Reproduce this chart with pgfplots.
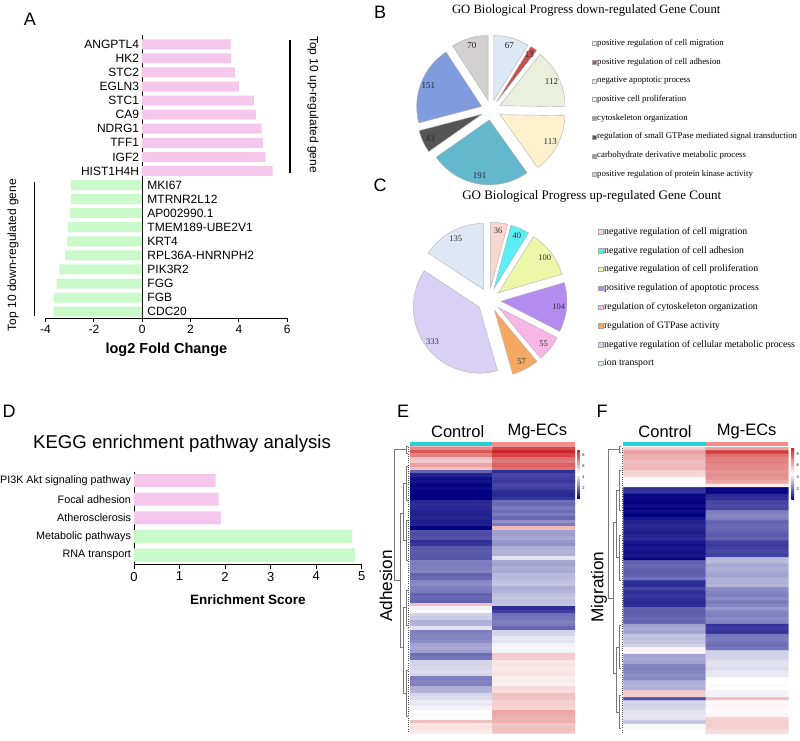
\documentclass[border=0pt]{standalone}
\usepackage{pgfplots}
\pgfplotsset{compat=1.18}
\usepackage{pgfplotstable}
\usepackage{fontspec}
\setmainfont{Liberation Sans}
\newfontfamily\tms{Liberation Serif}
\newcommand\fs[1]{\fontsize{#1}{#1}\selectfont}
\definecolor{upk}{RGB}{246,199,236}
\definecolor{dng}{RGB}{202,250,202}
\definecolor{b1}{RGB}{221,232,245}
\definecolor{b2}{RGB}{195,80,78}
\definecolor{b3}{RGB}{233,241,220}
\definecolor{b4}{RGB}{255,241,205}
\definecolor{b5}{RGB}{100,184,206}
\definecolor{b6}{RGB}{85,85,85}
\definecolor{b7}{RGB}{128,156,222}
\definecolor{b8}{RGB}{210,208,208}
\definecolor{c1}{RGB}{250,214,208}
\definecolor{c2}{RGB}{92,238,245}
\definecolor{c3}{RGB}{236,247,168}
\definecolor{c4}{RGB}{180,140,240}
\definecolor{c5}{RGB}{248,182,230}
\definecolor{c6}{RGB}{244,168,100}
\definecolor{c7}{RGB}{218,208,246}
\definecolor{c8}{RGB}{222,231,244}
\definecolor{anncyan}{RGB}{40,208,216}
\definecolor{annsal}{RGB}{244,140,136}
\definecolor{dend}{RGB}{120,120,120}
\pgfplotsset{colormap={pbwr}{rgb255=(0,0,128) rgb255=(255,255,255) rgb255=(205,38,38)}}

\pgfplotstableread[row sep=\\]{x y c\\
0 0 7.0\\ 1 0 8.3\\ 0 1 8.0\\ 1 1 9.0\\ 0 2 7.2\\ 1 2 8.4\\ 0 3 5.9\\ 1 3 7.5\\
0 4 5.7\\ 1 4 7.3\\ 0 5 6.5\\ 1 5 7.8\\ 0 6 5.9\\ 1 6 7.5\\ 0 7 1.9\\ 1 7 1.0\\
0 8 0.8\\ 1 8 1.4\\ 0 9 0.4\\ 1 9 1.3\\ 0 10 0.5\\ 1 10 1.2\\ 0 11 0.3\\ 1 11 1.4\\
0 12 0.4\\ 1 12 1.3\\ 0 13 0.2\\ 1 13 1.0\\ 0 14 0.2\\ 1 14 0.9\\ 0 15 0.2\\ 1 15 1.1\\
0 16 0.9\\ 1 16 2.1\\ 0 17 1.0\\ 1 17 2.0\\ 0 18 0.9\\ 1 18 2.3\\ 0 19 0.8\\ 1 19 2.1\\
0 20 0.75\\ 1 20 2.3\\ 0 21 0.8\\ 1 21 2.0\\ 0 22 0.7\\ 1 22 2.7\\ 0 23 0.75\\ 1 23 2.3\\
0 24 0.3\\ 1 24 6.0\\ 0 25 1.6\\ 1 25 3.0\\ 0 26 1.5\\ 1 26 2.9\\ 0 27 1.6\\ 1 27 3.1\\
0 28 1.0\\ 1 28 2.8\\ 0 29 1.1\\ 1 29 2.7\\ 0 30 1.7\\ 1 30 3.2\\ 0 31 1.8\\ 1 31 3.3\\
0 32 1.7\\ 1 32 3.2\\ 0 33 1.7\\ 1 33 4.1\\ 0 34 2.4\\ 1 34 3.1\\ 0 35 2.3\\ 1 35 3.0\\
0 36 2.4\\ 1 36 3.2\\ 0 37 2.5\\ 1 37 3.1\\ 0 38 1.9\\ 1 38 3.4\\ 0 39 2.0\\ 1 39 3.4\\
0 40 2.5\\ 1 40 3.5\\ 0 41 2.6\\ 1 41 3.6\\ 0 42 2.4\\ 1 42 3.2\\ 0 43 2.3\\ 1 43 3.3\\
0 44 1.9\\ 1 44 3.5\\ 0 45 2.0\\ 1 45 3.6\\ 0 46 1.9\\ 1 46 3.5\\ 0 47 5.9\\ 1 47 3.6\\
0 48 4.4\\ 1 48 1.0\\ 0 49 4.5\\ 1 49 1.3\\ 0 50 3.8\\ 1 50 2.1\\ 0 51 3.7\\ 1 51 2.2\\
0 52 3.2\\ 1 52 2.4\\ 0 53 3.3\\ 1 53 2.3\\ 0 54 4.1\\ 1 54 2.0\\ 0 55 2.4\\ 1 55 3.8\\
0 56 2.5\\ 1 56 3.9\\ 0 57 2.5\\ 1 57 4.2\\ 0 58 2.6\\ 1 58 4.1\\ 0 59 3.0\\ 1 59 4.4\\
0 60 3.1\\ 1 60 4.5\\ 0 61 2.9\\ 1 61 4.4\\ 0 62 2.1\\ 1 62 5.7\\ 0 63 2.2\\ 1 63 5.6\\
0 64 3.9\\ 1 64 5.1\\ 0 65 3.8\\ 1 65 5.2\\ 0 66 3.9\\ 1 66 5.0\\ 0 67 4.0\\ 1 67 5.1\\
0 68 3.9\\ 1 68 5.2\\ 0 69 2.4\\ 1 69 4.95\\ 0 70 2.5\\ 1 70 5.0\\ 0 71 2.4\\ 1 71 4.9\\
0 72 3.2\\ 1 72 5.35\\ 0 73 3.3\\ 1 73 5.3\\ 0 74 3.9\\ 1 74 5.9\\ 0 75 4.0\\ 1 75 5.8\\
0 76 4.3\\ 1 76 5.55\\ 0 77 4.2\\ 1 77 5.6\\ 0 78 4.4\\ 1 78 5.5\\ 0 79 4.6\\ 1 79 6.4\\
0 80 4.7\\ 1 80 6.3\\ 0 81 4.6\\ 1 81 6.2\\ 0 82 5.9\\ 1 82 6.2\\ 0 83 5.1\\ 1 83 5.8\\
0 84 5.2\\ 1 84 5.9\\ 0 85 5.0\\ 1 85 5.8\\
}\hmE

\pgfplotstableread[row sep=\\]{x y c\\
0 0 5.7\\ 1 0 6.5\\ 0 1 6.5\\ 1 1 8.5\\ 0 2 6.2\\ 1 2 7.5\\ 0 3 6.2\\ 1 3 7.2\\
0 4 5.9\\ 1 4 7.2\\ 0 5 6.0\\ 1 5 7.0\\ 0 6 6.1\\ 1 6 7.0\\ 0 7 5.5\\ 1 7 6.8\\
0 8 5.4\\ 1 8 6.9\\ 0 9 4.7\\ 1 9 6.8\\ 0 10 4.7\\ 1 10 6.4\\ 0 11 4.5\\ 1 11 5.0\\
0 12 1.0\\ 1 12 0.3\\ 0 13 1.1\\ 1 13 0.3\\ 0 14 0.3\\ 1 14 0.9\\ 0 15 0.3\\ 1 15 1.0\\
0 16 0.2\\ 1 16 1.4\\ 0 17 0.4\\ 1 17 1.5\\ 0 18 0.2\\ 1 18 1.4\\ 0 19 0.4\\ 1 19 2.4\\
0 20 0.2\\ 1 20 2.5\\ 0 21 0.6\\ 1 21 2.4\\ 0 22 0.8\\ 1 22 1.9\\ 0 23 0.9\\ 1 23 2.0\\
0 24 0.8\\ 1 24 2.0\\ 0 25 0.7\\ 1 25 1.9\\ 0 26 0.8\\ 1 26 1.8\\ 0 27 0.9\\ 1 27 1.9\\
0 28 0.6\\ 1 28 1.3\\ 0 29 0.5\\ 1 29 1.2\\ 0 30 0.6\\ 1 30 1.3\\ 0 31 0.5\\ 1 31 1.4\\
0 32 0.6\\ 1 32 1.3\\ 0 33 0.3\\ 1 33 3.4\\ 0 34 1.9\\ 1 34 3.4\\ 0 35 2.0\\ 1 35 3.1\\
0 36 1.9\\ 1 36 3.2\\ 0 37 1.8\\ 1 37 3.1\\ 0 38 1.9\\ 1 38 3.0\\ 0 39 2.1\\ 1 39 3.2\\
0 40 1.0\\ 1 40 3.2\\ 0 41 1.0\\ 1 41 3.3\\ 0 42 1.4\\ 1 42 2.6\\ 0 43 1.0\\ 1 43 2.5\\
0 44 1.1\\ 1 44 2.4\\ 0 45 1.0\\ 1 45 2.6\\ 0 46 0.9\\ 1 46 2.3\\ 0 47 1.0\\ 1 47 2.5\\
0 48 1.9\\ 1 48 2.8\\ 0 49 1.8\\ 1 49 2.5\\ 0 50 1.9\\ 1 50 2.4\\ 0 51 2.0\\ 1 51 2.6\\
0 52 1.9\\ 1 52 2.5\\ 0 53 3.0\\ 1 53 1.1\\ 0 54 3.1\\ 1 54 1.2\\ 0 55 3.0\\ 1 55 1.1\\
0 56 3.6\\ 1 56 2.2\\ 0 57 3.5\\ 1 57 2.3\\ 0 58 3.6\\ 1 58 2.2\\ 0 59 3.8\\ 1 59 2.1\\
0 60 4.8\\ 1 60 2.2\\ 0 61 4.8\\ 1 61 3.8\\ 0 62 3.0\\ 1 62 3.8\\ 0 63 3.1\\ 1 63 3.9\\
0 64 3.0\\ 1 64 4.1\\ 0 65 2.5\\ 1 65 4.1\\ 0 66 2.4\\ 1 66 4.0\\ 0 67 2.5\\ 1 67 4.2\\
0 68 2.6\\ 1 68 4.2\\ 0 69 2.5\\ 1 69 4.6\\ 0 70 3.2\\ 1 70 4.6\\ 0 71 3.3\\ 1 71 4.7\\
0 72 3.2\\ 1 72 4.6\\ 0 73 5.7\\ 1 73 4.4\\ 0 74 5.6\\ 1 74 4.4\\ 0 75 1.6\\ 1 75 5.9\\
0 76 3.9\\ 1 76 4.7\\ 0 77 3.8\\ 1 77 4.8\\ 0 78 3.9\\ 1 78 4.7\\ 0 79 4.1\\ 1 79 4.7\\
0 80 4.2\\ 1 80 4.8\\ 0 81 4.1\\ 1 81 5.55\\ 0 82 3.6\\ 1 82 5.55\\ 0 83 4.5\\ 1 83 5.6\\
0 84 4.5\\ 1 84 5.5\\ 0 85 4.6\\ 1 85 5.3\\
}\hmF

\begin{document}
\begin{tikzpicture}
\path[use as bounding box] (0pt,0pt) rectangle (800pt,-741pt);

% ---------------- Panel A ----------------
\begin{axis}[
  at={(45.5pt,-318pt)}, anchor=south west, scale only axis,
  width=241.8pt, height=283pt,
  xmin=-4, xmax=6, ymin=0.55, ymax=20.66,
  xbar, bar width=0.71,
  axis x line*=bottom, axis y line=none,
  axis line style={line width=0.9pt},
  xtick={-4,-2,0,2,4,6}, ytick=\empty,
  tick align=outside, major tick length=4pt,
  tick style={black, line width=0.9pt},
  xticklabel style={font=\fs{12}},
  /pgf/number format/assume math mode=true,
  extra x ticks={0}, extra x tick labels={},
  extra x tick style={grid=major, major grid style={black, line width=1pt}},
  xlabel={log2 Fold Change},
  xlabel style={font=\bfseries\fs{14.5}, at={(axis description cs:0.5,0)}, anchor=center, yshift=-32pt},
  clip=false,
]
\addplot[fill=upk, draw=none, bar shift=0pt] coordinates {(3.66,20) (3.68,19) (3.83,18) (4.0,17) (4.62,16) (4.7,15) (4.94,14) (5.0,13) (5.1,12) (5.39,11)};
\addplot[fill=dng, draw=none, bar shift=0pt] coordinates {(-2.95,10) (-2.95,9) (-2.99,8) (-3.09,7) (-3.11,6) (-3.19,5) (-3.43,4) (-3.54,3) (-3.64,2) (-3.67,1)};
\begin{scope}[every node/.style={font=\fs{12}, inner sep=0pt}]
\node[anchor=east, xshift=-3pt] at (axis cs:0,20) {ANGPTL4};
\node[anchor=east, xshift=-3pt] at (axis cs:0,19) {HK2};
\node[anchor=east, xshift=-3pt] at (axis cs:0,18) {STC2};
\node[anchor=east, xshift=-3pt] at (axis cs:0,17) {EGLN3};
\node[anchor=east, xshift=-3pt] at (axis cs:0,16) {STC1};
\node[anchor=east, xshift=-3pt] at (axis cs:0,15) {CA9};
\node[anchor=east, xshift=-3pt] at (axis cs:0,14) {NDRG1};
\node[anchor=east, xshift=-3pt] at (axis cs:0,13) {TFF1};
\node[anchor=east, xshift=-3pt] at (axis cs:0,12) {IGF2};
\node[anchor=east, xshift=-3pt] at (axis cs:0,11) {HIST1H4H};
\node[anchor=west, xshift=5pt] at (axis cs:0,10) {MKI67};
\node[anchor=west, xshift=5pt] at (axis cs:0,9) {MTRNR2L12};
\node[anchor=west, xshift=5pt] at (axis cs:0,8) {AP002990.1};
\node[anchor=west, xshift=5pt] at (axis cs:0,7) {TMEM189-UBE2V1};
\node[anchor=west, xshift=5pt] at (axis cs:0,6) {KRT4};
\node[anchor=west, xshift=5pt] at (axis cs:0,5) {RPL36A-HNRNPH2};
\node[anchor=west, xshift=5pt] at (axis cs:0,4) {PIK3R2};
\node[anchor=west, xshift=5pt] at (axis cs:0,3) {FGG};
\node[anchor=west, xshift=5pt] at (axis cs:0,2) {FGB};
\node[anchor=west, xshift=5pt] at (axis cs:0,1) {CDC20};
\end{scope}
\end{axis}

% ---------------- Panel D ----------------
\begin{axis}[
  at={(134pt,-564pt)}, anchor=south west, scale only axis,
  width=227.7pt, height=92.3pt,
  xmin=0, xmax=5, ymin=0.516, ymax=5.48,
  xbar, bar width=0.7,
  axis x line*=bottom, axis y line*=left,
  axis line style={line width=0.9pt},
  xtick={0,1,2,3,4,5}, ytick={1,2,3,4,5},
  yticklabels={RNA transport, Metabolic pathways, Atherosclerosis, Focal adhesion, PI3K Akt signaling pathway},
  tick align=outside, major tick length=4.5pt,
  tick style={black, line width=0.9pt},
  ytick style={draw=none},
  xticklabel style={font=\fs{13}},
  yticklabel style={font=\fs{10.8}, xshift=5pt},
  /pgf/number format/assume math mode=true,
  clip=false,
]
\addplot[fill=upk, draw=none, bar shift=0pt] coordinates {(1.91,3) (1.86,4) (1.79,5)};
\addplot[fill=dng, draw=none, bar shift=0pt] coordinates {(4.85,1) (4.79,2)};
\end{axis}

% ---------------- Panel E heatmap ----------------
\begin{axis}[
  at={(410pt,-733.3pt)}, anchor=south west, scale only axis,
  width=165pt, height=286.6pt,
  xmin=-0.5, xmax=1.5, ymin=-0.5, ymax=85.5, y dir=reverse,
  hide axis, colormap name=pbwr,
  point meta min=0.2, point meta max=9.0,
  colorbar,
  colorbar style={at={(parent axis.north east)}, anchor=north west, xshift=-6.5pt, yshift=-2.6pt,
    scale only axis, width=2.8pt, height=49pt, ytick={2,4,6,8},
    yticklabel style={font=\fs{4}, xshift=-1pt}, major tick length=0pt,
    axis line style={draw=none}, /pgf/number format/assume math mode=true},
]
\addplot[matrix plot*, mesh/cols=2, point meta=explicit] table[meta=c] {\hmE};
\end{axis}

% ---------------- Panel F heatmap ----------------
\begin{axis}[
  at={(623.3pt,-734pt)}, anchor=south west, scale only axis,
  width=165pt, height=286.7pt,
  xmin=-0.5, xmax=1.5, ymin=-0.5, ymax=85.5, y dir=reverse,
  hide axis, colormap name=pbwr,
  point meta min=0.2, point meta max=9.0,
  colorbar,
  colorbar style={at={(parent axis.north east)}, anchor=north west, xshift=-5.5pt, yshift=-0.5pt,
    scale only axis, width=2.8pt, height=52pt, ytick={2,4,6,8},
    yticklabel style={font=\fs{4}, xshift=-1pt}, major tick length=0pt,
    axis line style={draw=none}, /pgf/number format/assume math mode=true},
]
\addplot[matrix plot*, mesh/cols=2, point meta=explicit] table[meta=c] {\hmF};
\end{axis}

% ---------------- Overlay (pies, labels, dendrograms) ----------------
\begin{axis}[at={(0pt,-741pt)}, anchor=south west, scale only axis,
  width=800pt, height=741pt, xmin=0, xmax=800, ymin=0, ymax=741,
  y dir=reverse, hide axis, clip=false]

% panel letters
\node[font=\fs{18}] at (axis cs:30,19) {A};
\node[font=\fs{18}] at (axis cs:380,12) {B};
\node[font=\fs{18}] at (axis cs:380,185) {C};
\node[font=\fs{18}] at (axis cs:9,411.5) {D};
\node[font=\fs{18}] at (axis cs:403,411) {E};
\node[font=\fs{18}] at (axis cs:602,411.5) {F};

% panel A side brackets
\draw[line width=1.2pt] (axis cs:290,40) -- (axis cs:290,173);
\node[rotate=-90, font=\fs{12}] at (axis cs:313,104.5) {Top 10 up-regulated gene};
\draw[line width=1.2pt] (axis cs:34.3,182) -- (axis cs:34.3,316);
\node[rotate=90, font=\fs{12}] at (axis cs:13,255) {Top 10 down-regulated gene};

% panel D texts
\node[font=\fs{18.6}] at (axis cs:182,444) {KEGG enrichment pathway analysis};
\node[font=\bfseries\fs{13.5}] at (axis cs:248,600) {Enrichment Score};

% panel B pie
\node[font=\tms\fs{12.7}] at (axis cs:586.2,10) {GO Biological Progress down-regulated Gene Count};
\gdef\pieA{90}
\foreach \v/\c in {67/b1,13/b2,112/b3,113/b4,191/b5,43/b6,151/b7,70/b8}{%
  \pgfmathsetmacro\pieB{\pieA-\v/760*360}%
  \pgfmathsetmacro\pieM{(\pieA+\pieB)/2}%
  \edef\temp{\noexpand\filldraw[fill=\c, draw=gray!60, line width=0.4pt] (axis cs:491,110) ++(\pieM:10pt) -- ++(\pieA:65pt) arc[start angle=\pieA, end angle=\pieB, radius=65pt] -- cycle;}%
  \temp
  \edef\temp{\noexpand\path (axis cs:491,110) ++(\pieM:67pt) node[font=\noexpand\tms\noexpand\fs{9}, text=black!85] {\v};}%
  \temp
  \xdef\pieA{\pieB}%
}
\begin{scope}[every node/.style={inner sep=0pt}]
\foreach \yy/\c/\t in {43.3/b1/positive regulation of cell migration,
  62/b2/positive regulation of cell adhesion,
  81/b3/negative apoptotic process,
  99.3/b4/positive cell proliferation,
  118.3/b5/cytoskeleton organization,
  136.7/b6/regulation of small GTPase mediated signal transduction,
  155.7/b7/carbohydrate derivative metabolic process,
  174/b8/positive regulation of protein kinase activity}{%
  \edef\temp{\noexpand\node[draw=gray!70, fill=\c, minimum size=4pt, line width=0.3pt] at (axis cs:593.7,\yy) {};
    \noexpand\node[anchor=west, font=\noexpand\tms\noexpand\fs{8.8}] at (axis cs:597,\yy) {\t};}%
  \temp
}
\end{scope}

% panel C pie
\node[font=\tms\fs{13}] at (axis cs:591.7,196.7) {GO Biological Progress up-regulated Gene Count};
\gdef\pieA{90}
\foreach \v/\c in {36/c1,40/c2,100/c3,104/c4,55/c5,57/c6,333/c7,135/c8}{%
  \pgfmathsetmacro\pieB{\pieA-\v/860*360}%
  \pgfmathsetmacro\pieM{(\pieA+\pieB)/2}%
  \edef\temp{\noexpand\filldraw[fill=\c, draw=gray!60, line width=0.4pt] (axis cs:489,300) ++(\pieM:12pt) -- ++(\pieA:66pt) arc[start angle=\pieA, end angle=\pieB, radius=66pt] -- cycle;}%
  \temp
  \edef\temp{\noexpand\path (axis cs:489,300) ++(\pieM:70pt) node[font=\noexpand\tms\noexpand\fs{8.5}, text=black!80] {\v};}%
  \temp
  \xdef\pieA{\pieB}%
}
\begin{scope}[every node/.style={inner sep=0pt}]
\foreach \yy/\c/\t in {231.7/c1/negative regulation of cell migration,
  250.7/c2/negative regulation of cell adhesion,
  269.3/c3/negative regulation of cell proliferation,
  288.3/c4/positive regulation of apoptotic process,
  307.3/c5/regulation of cytoskeleton organization,
  325.7/c6/regulation of GTPase activity,
  344.7/c7/negative regulation of cellular metabolic process,
  363.3/c8/ion transport}{%
  \edef\temp{\noexpand\node[draw=gray!70, fill=\c, minimum size=4.3pt, line width=0.3pt] at (axis cs:600.5,\yy) {};
    \noexpand\node[anchor=west, font=\noexpand\tms\noexpand\fs{9.8}] at (axis cs:604,\yy) {\t};}%
  \temp
}
\end{scope}

% heatmap labels
\node[font=\fs{16.5}] at (axis cs:457.7,431.5) {Control};
\node[font=\fs{16.5}] at (axis cs:537.3,431) {Mg-ECs};
\node[font=\fs{16.5}] at (axis cs:665,432) {Control};
\node[font=\fs{16.5}] at (axis cs:746.7,431) {Mg-ECs};
\node[rotate=90, font=\fs{17.2}] at (axis cs:386,586) {Adhesion};
\node[rotate=90, font=\fs{17.2}] at (axis cs:599,587) {Migration};

% column annotation bars
\fill[anncyan] (axis cs:410,441.5) rectangle (axis cs:492.3,445.5);
\fill[annsal] (axis cs:492.3,441.5) rectangle (axis cs:575,445.5);
\fill[anncyan] (axis cs:623.3,442.3) rectangle (axis cs:706,446.3);
\fill[annsal] (axis cs:706,442.3) rectangle (axis cs:788.3,446.3);

% dendrogram E
\addplot[dend, line width=0.6pt] coordinates {(406,449) (394,449) (394,580) (400,580)};
\addplot[dend, line width=0.6pt] coordinates {(403,513) (400,513) (400,647) (403,647)};
\addplot[dend, line width=0.6pt] coordinates {(406,483) (403,483) (403,540) (406,540)};
\addplot[dend, line width=0.6pt] coordinates {(406,607) (403,607) (403,693) (406,693)};
\addplot[dend, line width=0.6pt] coordinates {(408,446) (406,446) (406,453) (408,453)};
\addplot[dend, line width=0.6pt] coordinates {(408,466) (406,466) (406,500) (408,500)};
\addplot[dend, line width=0.6pt] coordinates {(408,520) (406,520) (406,560) (408,560)};
\addplot[dend, line width=0.6pt] coordinates {(408,590) (406,590) (406,625) (408,625)};
\addplot[dend, line width=0.6pt] coordinates {(408,670) (406,670) (406,716) (408,716)};
\addplot[black!70, line width=0.6pt, dash pattern=on 1pt off 1.2pt] coordinates {(408.6,447) (408.6,733)};

% dendrogram F
\addplot[dend, line width=0.6pt] coordinates {(619,449) (608,449) (608,598) (613,598)};
\addplot[dend, line width=0.6pt] coordinates {(616,522) (613,522) (613,673) (616,673)};
\addplot[dend, line width=0.6pt] coordinates {(619,490) (616,490) (616,557) (619,557)};
\addplot[dend, line width=0.6pt] coordinates {(619,647) (616,647) (616,712) (619,712)};
\addplot[dend, line width=0.6pt] coordinates {(621,446) (619,446) (619,452) (621,452)};
\addplot[dend, line width=0.6pt] coordinates {(621,470) (619,470) (619,510) (621,510)};
\addplot[dend, line width=0.6pt] coordinates {(621,535) (619,535) (619,580) (621,580)};
\addplot[dend, line width=0.6pt] coordinates {(621,625) (619,625) (619,668) (621,668)};
\addplot[dend, line width=0.6pt] coordinates {(621,695) (619,695) (619,728) (621,728)};
\addplot[black!70, line width=0.6pt, dash pattern=on 1pt off 1.2pt] coordinates {(622,448) (622,734)};
\end{axis}
\end{tikzpicture}
\end{document}
